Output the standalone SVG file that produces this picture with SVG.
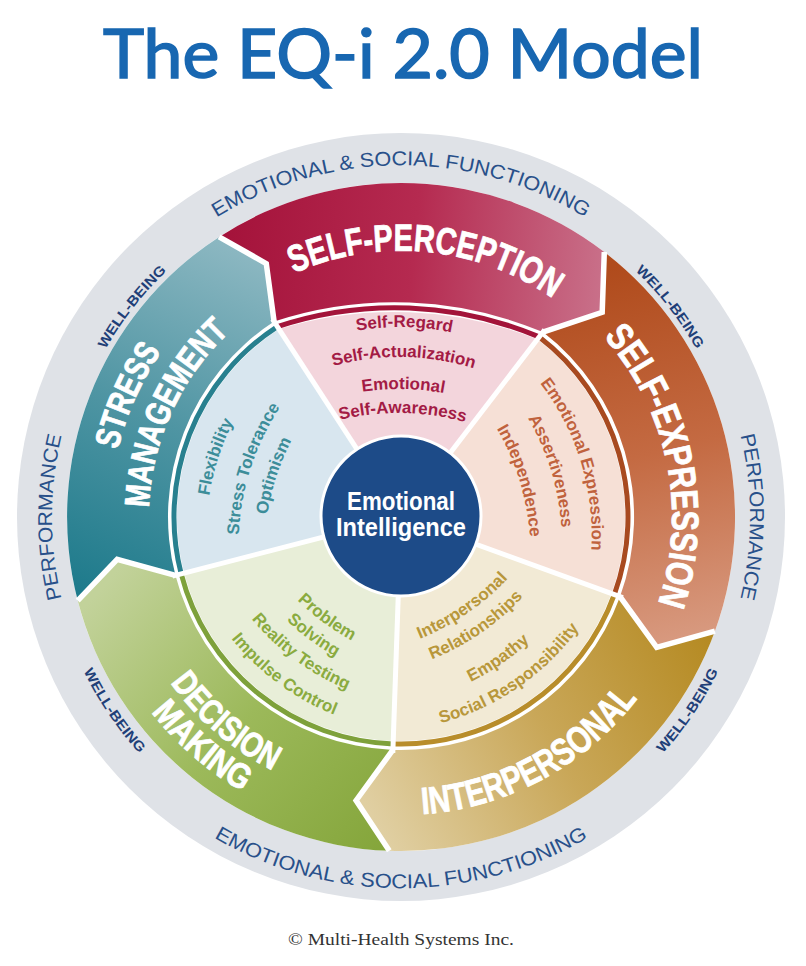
<svg xmlns="http://www.w3.org/2000/svg" width="806" height="966" viewBox="0 0 806 966">
<style>
.ring{font-family:"Liberation Sans",Arial,sans-serif;font-size:20px;fill:#28508a}
.wb{font-family:"Liberation Sans",Arial,sans-serif;font-weight:bold;font-size:14px;fill:#1f3f78}
.band{font-family:"Liberation Sans",Arial,sans-serif;font-weight:bold;font-size:38px;fill:#fff;stroke:#fff;stroke-width:0.8}
.band2{font-size:35px}
.inn{font-family:"Liberation Sans",Arial,sans-serif;font-weight:bold;font-size:17px}
.gap{fill:none;stroke:#fff;stroke-width:5.5;stroke-linejoin:miter}
.rad{stroke:#fff;stroke-width:5}
.thin{fill:none;stroke-width:5}
</style>
<defs>
<linearGradient id="gSP" gradientUnits="userSpaceOnUse" x1="220" y1="250" x2="605" y2="285"><stop offset="0" stop-color="#a4123a"/><stop offset="0.5" stop-color="#b52a50"/><stop offset="1" stop-color="#c9718a"/></linearGradient>
<linearGradient id="gSE" gradientUnits="userSpaceOnUse" x1="600" y1="270" x2="690" y2="640"><stop offset="0" stop-color="#b04b1c"/><stop offset="0.5" stop-color="#c46a42"/><stop offset="1" stop-color="#d89a80"/></linearGradient>
<linearGradient id="gIP" gradientUnits="userSpaceOnUse" x1="715" y1="640" x2="380" y2="830"><stop offset="0" stop-color="#b58a22"/><stop offset="0.5" stop-color="#c9a758"/><stop offset="1" stop-color="#e0cfa2"/></linearGradient>
<linearGradient id="gDM" gradientUnits="userSpaceOnUse" x1="390" y1="850" x2="100" y2="590"><stop offset="0" stop-color="#84a53a"/><stop offset="0.5" stop-color="#9cb95a"/><stop offset="1" stop-color="#c2d29a"/></linearGradient>
<linearGradient id="gSM" gradientUnits="userSpaceOnUse" x1="90" y1="600" x2="250" y2="250"><stop offset="0" stop-color="#1d7a8b"/><stop offset="0.5" stop-color="#4f95a3"/><stop offset="1" stop-color="#8db8c2"/></linearGradient>
<path id="cw352" d="M -346.6 -61.1 A 352 352 0 0 1 346.6 -61.1"/>
<path id="ccw371" d="M -365.4 64.4 A 371 371 0 0 0 365.4 64.4"/>
<path id="cw349" d="M -343.7 -60.6 A 349 349 0 0 1 343.7 -60.6"/>
<path id="cw340" d="M -334.8 -59 A 340 340 0 0 1 334.8 -59"/>
<path id="ccw353" d="M -347.6 61.3 A 353 353 0 0 0 347.6 61.3"/>
<path id="cw266" d="M -262 -46.2 A 266 266 0 0 1 262 -46.2"/>
<path id="cw271" d="M -266.9 -47 A 271 271 0 0 1 266.9 -47"/>
<path id="ccw298" d="M -293.5 51.7 A 298 298 0 0 0 293.5 51.7"/>
<path id="ccw284" d="M -279.7 49.3 A 284 284 0 0 0 279.7 49.3"/>
<path id="ccw317" d="M -312.2 55 A 317 317 0 0 0 312.2 55"/>
<path id="cw291" d="M -286.6 -50.5 A 291 291 0 0 1 286.6 -50.5"/>
<path id="cw252" d="M -248.2 -43.7 A 252 252 0 0 1 248.2 -43.7"/>
<path id="f190" d="M -160.7 -131.5 A 250 250 0 0 1 160.7 -131.5"/>
<path id="f160" d="M -160.7 -101.5 A 250 250 0 0 1 160.7 -101.5"/>
<path id="f128" d="M -160.7 -69.5 A 250 250 0 0 1 160.7 -69.5"/>
<path id="f104" d="M -160.7 -45.5 A 250 250 0 0 1 160.7 -45.5"/>
<path id="f188" d="M -160.7 -129.5 A 250 250 0 0 1 160.7 -129.5"/>
<path id="f157" d="M -160.7 -98.5 A 250 250 0 0 1 160.7 -98.5"/>
<path id="f124" d="M -160.7 -65.5 A 250 250 0 0 1 160.7 -65.5"/>
<path id="f192" d="M -160.7 -133.5 A 250 250 0 0 1 160.7 -133.5"/>
<path id="f158" d="M -160.7 -99.5 A 250 250 0 0 1 160.7 -99.5"/>
<path id="f131" d="M -160.7 -72.5 A 250 250 0 0 1 160.7 -72.5"/>
<path id="g207" d="M -160.7 148.5 A 250 250 0 0 0 160.7 148.5"/>
<path id="g178" d="M -160.7 119.5 A 250 250 0 0 0 160.7 119.5"/>
<path id="g141" d="M -160.7 82.5 A 250 250 0 0 0 160.7 82.5"/>
<path id="g117" d="M -160.7 58.5 A 250 250 0 0 0 160.7 58.5"/>
<path id="g153" d="M -160.7 94.5 A 250 250 0 0 0 160.7 94.5"/>
<path id="g131" d="M -160.7 72.5 A 250 250 0 0 0 160.7 72.5"/>
</defs>
<rect width="806" height="966" fill="#fff"/>
<g id="title"><text x="403" y="78" text-anchor="middle" font-family="Lato,'Open Sans',sans-serif" font-size="68" fill="#1867b1" stroke="#1867b1" stroke-width="1.6" textLength="600" lengthAdjust="spacingAndGlyphs">The EQ-i 2.0 Model</text></g>
<g id="outer-ring">
<circle cx="401" cy="517" r="384" fill="#dfe2e7"/>
<circle cx="401" cy="517" r="334" fill="#fff"/>
<g transform="translate(401,517)">
<text class="ring"><textPath href="#cw352" startOffset="50%" text-anchor="middle" textLength="388" lengthAdjust="spacingAndGlyphs">EMOTIONAL &amp; SOCIAL FUNCTIONING</textPath></text>
<text class="ring"><textPath href="#ccw371" startOffset="50%" text-anchor="middle" textLength="392" lengthAdjust="spacingAndGlyphs">EMOTIONAL &amp; SOCIAL FUNCTIONING</textPath></text>
<g transform="rotate(-90)"><text class="ring"><textPath href="#cw349" startOffset="50%" text-anchor="middle" textLength="165" lengthAdjust="spacingAndGlyphs">PERFORMANCE</textPath></text></g>
<g transform="rotate(90)"><text class="ring"><textPath href="#cw349" startOffset="50%" text-anchor="middle" textLength="165" lengthAdjust="spacingAndGlyphs">PERFORMANCE</textPath></text></g>
<g transform="rotate(-52)"><text class="wb"><textPath href="#cw340" startOffset="50%" text-anchor="middle" textLength="100" lengthAdjust="spacingAndGlyphs">WELL-BEING</textPath></text></g>
<g transform="rotate(52)"><text class="wb"><textPath href="#cw340" startOffset="50%" text-anchor="middle" textLength="100" lengthAdjust="spacingAndGlyphs">WELL-BEING</textPath></text></g>
<g transform="rotate(-56)"><text class="wb"><textPath href="#ccw353" startOffset="50%" text-anchor="middle" textLength="100" lengthAdjust="spacingAndGlyphs">WELL-BEING</textPath></text></g>
<g transform="rotate(56)"><text class="wb"><textPath href="#ccw353" startOffset="50%" text-anchor="middle" textLength="100" lengthAdjust="spacingAndGlyphs">WELL-BEING</textPath></text></g>
</g>
</g>
<g id="bands">
<path id="band-sp" d="M 219.1 236.9 A 334 334 0 0 1 604.3 252 L 602.2 312.3 L 542.9 332.1 A 385 385 0 0 0 274.1 321.6 L 266.3 263.6 Z" fill="url(#gSP)"/>
<path id="band-se" d="M 604.3 252 A 334 334 0 0 1 714.9 631.2 L 656.7 647.3 L 620 596.7 A 233 233 0 0 0 542.9 332.1 L 602.2 312.3 Z" fill="url(#gSE)"/>
<path id="band-ip" d="M 714.9 631.2 A 334 334 0 0 1 389.3 850.8 L 356.1 800.5 L 392.9 749.9 A 233 233 0 0 0 620 596.7 L 656.7 647.3 Z" fill="url(#gIP)"/>
<path id="band-dm" d="M 389.3 850.8 A 334 334 0 0 1 77.7 600.6 L 117.2 559.4 L 175.4 575.3 A 233 233 0 0 0 392.9 749.9 L 356.1 800.5 Z" fill="url(#gDM)"/>
<path id="band-sm" d="M 77.7 600.6 A 334 334 0 0 1 219.1 236.9 L 266.3 263.6 L 274.1 321.6 A 233 233 0 0 0 175.4 575.3 L 117.2 559.4 Z" fill="url(#gSM)"/>
</g>
<g id="connectors">
<polyline class="gap" points="219.1,236.9 266.3,263.6 274.1,321.6"/>
<polyline class="gap" points="604.3,252 602.2,312.3 542.9,332.1"/>
<polyline class="gap" points="714.9,631.2 656.7,647.3 620,596.7"/>
<polyline class="gap" points="389.3,850.8 356.1,800.5 392.9,749.9"/>
<polyline class="gap" points="77.7,600.6 117.2,559.4 175.4,575.3"/>
</g>
<g id="pie">
<path id="sec-sp" d="M 401 517 L 279 329.1 A 391 391 0 0 1 537.4 339.3 Z" fill="#f3d5dc"/>
<path id="sec-se" d="M 401 517 L 537.4 339.3 A 224 224 0 0 1 611.5 593.6 Z" fill="#f6e0d6"/>
<path id="sec-ip" d="M 401 517 L 611.5 593.6 A 224 224 0 0 1 393.2 740.9 Z" fill="#f2ead5"/>
<path id="sec-dm" d="M 401 517 L 393.2 740.9 A 224 224 0 0 1 184.1 573.1 Z" fill="#e8eed8"/>
<path id="sec-sm" d="M 401 517 L 184.1 573.1 A 224 224 0 0 1 279 329.1 Z" fill="#d8e6ef"/>
<path class="thin" d="M 277.4 326.6 A 373 373 0 0 1 539.2 336.9" stroke="#a3143a"/>
<path class="thin" d="M 539.2 336.9 A 227 227 0 0 1 614.3 594.6" stroke="#a84a20"/>
<path class="thin" d="M 614.3 594.6 A 227 227 0 0 1 393.1 743.9" stroke="#b88d2b"/>
<path class="thin" d="M 393.1 743.9 A 227 227 0 0 1 181.2 573.8" stroke="#7ea13b"/>
<path class="thin" d="M 181.2 573.8 A 227 227 0 0 1 277.4 326.6" stroke="#28808f"/>
<line class="rad" x1="401" y1="517" x2="272.5" y2="319.1"/>
<line class="rad" x1="401" y1="517" x2="544.7" y2="329.8"/>
<line class="rad" x1="401" y1="517" x2="622.8" y2="597.7"/>
<line class="rad" x1="401" y1="517" x2="392.8" y2="752.9"/>
<line class="rad" x1="401" y1="517" x2="172.5" y2="576.1"/>
</g>
<g id="band-labels" transform="translate(401,517)">
<g transform="rotate(5.5)"><text class="band"><textPath href="#cw266" startOffset="50%" text-anchor="middle" textLength="272" lengthAdjust="spacingAndGlyphs">SELF-PERCEPTION</textPath></text></g>
<g transform="rotate(78.5)"><text class="band"><textPath href="#cw271" startOffset="50%" text-anchor="middle" textLength="285" lengthAdjust="spacingAndGlyphs">SELF-EXPRESSION</textPath></text></g>
<g transform="rotate(-28.3)"><text class="band"><textPath href="#ccw298" startOffset="50%" text-anchor="middle" textLength="252" lengthAdjust="spacingAndGlyphs">INTERPERSONAL</textPath></text></g>
<g transform="rotate(40.6)"><text class="band band2"><textPath href="#ccw284" startOffset="50%" text-anchor="middle" textLength="136" lengthAdjust="spacingAndGlyphs">DECISION</textPath></text></g>
<g transform="rotate(41)"><text class="band band2"><textPath href="#ccw317" startOffset="50%" text-anchor="middle" textLength="122" lengthAdjust="spacingAndGlyphs">MAKING</textPath></text></g>
<g transform="rotate(-66)"><text class="band band2"><textPath href="#cw291" startOffset="50%" text-anchor="middle" textLength="108" lengthAdjust="spacingAndGlyphs">STRESS</textPath></text></g>
<g transform="rotate(-65.4)"><text class="band band2"><textPath href="#cw252" startOffset="50%" text-anchor="middle" textLength="198" lengthAdjust="spacingAndGlyphs">MANAGEMENT</textPath></text></g>
</g>
<g id="sub-sp" transform="translate(401,517) rotate(1)" fill="#a31b45">
<text class="inn"><textPath href="#f190" startOffset="50%" text-anchor="middle">Self-Regard</textPath></text>
<text class="inn"><textPath href="#f160" startOffset="50%" text-anchor="middle">Self-Actualization</textPath></text>
<text class="inn"><textPath href="#f128" startOffset="50%" text-anchor="middle">Emotional</textPath></text>
<text class="inn"><textPath href="#f104" startOffset="50%" text-anchor="middle">Self-Awareness</textPath></text>
</g>
<g id="sub-se" transform="translate(401,517) rotate(73)" fill="#c0623d">
<text class="inn"><textPath href="#f188" startOffset="50%" text-anchor="middle">Emotional Expression</textPath></text>
<text class="inn"><textPath href="#f157" startOffset="50%" text-anchor="middle">Assertiveness</textPath></text>
<text class="inn"><textPath href="#f124" startOffset="50%" text-anchor="middle">Independence</textPath></text>
</g>
<g id="sub-ip" transform="translate(401,517) rotate(-34.5)" fill="#b8973a">
<text class="inn"><textPath href="#g117" startOffset="50%" text-anchor="middle">Interpersonal</textPath></text>
<text class="inn"><textPath href="#g141" startOffset="50%" text-anchor="middle">Relationships</textPath></text>
<text class="inn"><textPath href="#g178" startOffset="50%" text-anchor="middle">Empathy</textPath></text>
<text class="inn"><textPath href="#g207" startOffset="50%" text-anchor="middle">Social Responsibility</textPath></text>
</g>
<g id="sub-dm" transform="translate(401,517) rotate(36.5)" fill="#8aab3f">
<text class="inn"><textPath href="#g131" startOffset="50%" text-anchor="middle">Problem</textPath></text>
<text class="inn"><textPath href="#g153" startOffset="50%" text-anchor="middle">Solving</textPath></text>
<text class="inn"><textPath href="#g178" startOffset="50%" text-anchor="middle">Reality Testing</textPath></text>
<text class="inn"><textPath href="#g207" startOffset="50%" text-anchor="middle">Impulse Control</textPath></text>
</g>
<g id="sub-sm" transform="translate(401,517) rotate(-72)" fill="#3c8d99">
<text class="inn"><textPath href="#f192" startOffset="50%" text-anchor="middle">Flexibility</textPath></text>
<text class="inn"><textPath href="#f158" startOffset="50%" text-anchor="middle">Stress Tolerance</textPath></text>
<text class="inn"><textPath href="#f131" startOffset="50%" text-anchor="middle">Optimism</textPath></text>
</g>
<g id="center">
<circle cx="401" cy="516" r="80" fill="#1d4b88" stroke="#fff" stroke-width="3"/>
<text x="401" y="510" text-anchor="middle" font-family="'Liberation Sans',Arial,sans-serif" font-weight="bold" font-size="25" fill="#fff" textLength="108" lengthAdjust="spacingAndGlyphs">Emotional</text>
<text x="401" y="536" text-anchor="middle" font-family="'Liberation Sans',Arial,sans-serif" font-weight="bold" font-size="25" fill="#fff" textLength="130" lengthAdjust="spacingAndGlyphs">Intelligence</text>
</g>
<g id="footer"><text x="401" y="945" text-anchor="middle" font-family="'Liberation Serif','Times New Roman',serif" font-size="17" fill="#333" textLength="226" lengthAdjust="spacingAndGlyphs">© Multi-Health Systems Inc.</text></g>
</svg>
